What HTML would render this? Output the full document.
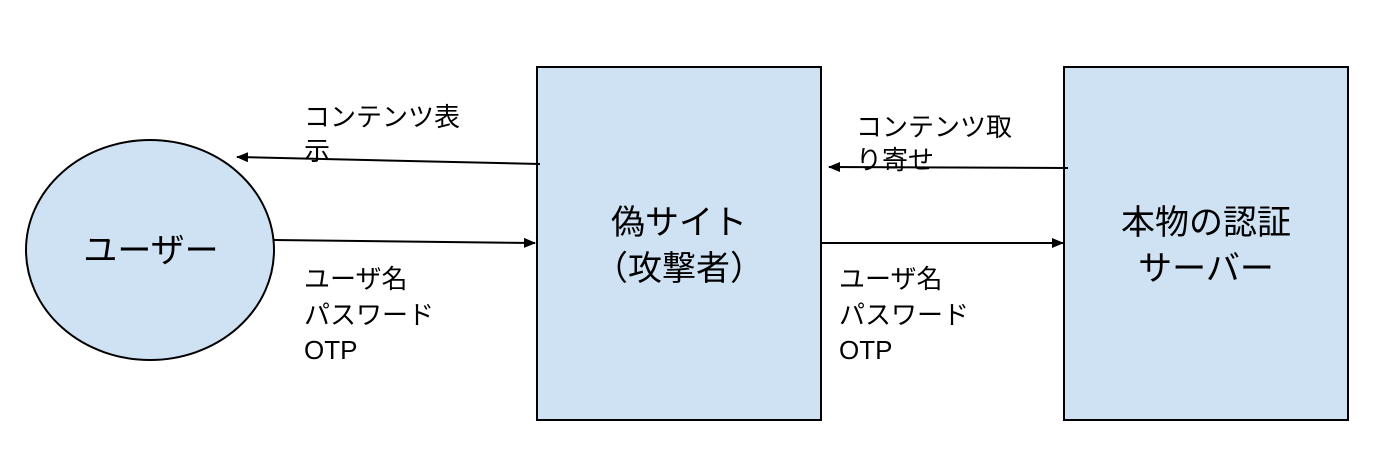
<!DOCTYPE html>
<html><head><meta charset="utf-8"><style>
body{margin:0;background:#fff}
text{font-family:"Liberation Sans","Noto Sans CJK JP",sans-serif;fill:#000}
</style></head><body>
<svg width="1398" height="462" viewBox="0 0 1398 462" xmlns="http://www.w3.org/2000/svg">
<defs><marker id="a" markerWidth="12" markerHeight="10" refX="11" refY="5" orient="auto" markerUnits="userSpaceOnUse"><path d="M0,0 L12,5 L0,10 z" fill="#000"/></marker></defs>
<rect width="1398" height="462" fill="#fff"/>
<ellipse cx="150" cy="250" rx="124" ry="110" fill="#cfe2f3" stroke="#000" stroke-width="2"/>
<rect x="537" y="67" width="284" height="353" fill="#cfe2f3" stroke="#000" stroke-width="2"/>
<rect x="1064" y="67" width="284" height="353" fill="#cfe2f3" stroke="#000" stroke-width="2"/>
<g stroke="#000" stroke-width="2" fill="none" marker-end="url(#a)">
<line x1="540" y1="164" x2="237" y2="157"/>
<line x1="274" y1="240" x2="535" y2="243"/>
<line x1="1068" y1="168" x2="829" y2="167"/>
<line x1="821" y1="243" x2="1063" y2="243"/>
</g>
<g font-size="26">
<text x="304" y="126">コンテンツ表</text><text x="304" y="160">示</text>
<text x="304" y="288">ユーザ名</text><text x="304" y="324">パスワード</text><text x="304" y="359">OTP</text>
<text x="856" y="136">コンテンツ取</text><text x="856" y="169">り寄せ</text>
<text x="839" y="288">ユーザ名</text><text x="839" y="324">パスワード</text><text x="839" y="359">OTP</text>
</g>
<g font-size="34" text-anchor="middle">
<text x="151" y="262">ユーザー</text>
<text x="679" y="234">偽サイト</text><text x="679" y="280">（攻撃者）</text>
<text x="1206" y="234">本物の認証</text><text x="1206" y="280">サーバー</text>
</g>
</svg>
</body></html>
